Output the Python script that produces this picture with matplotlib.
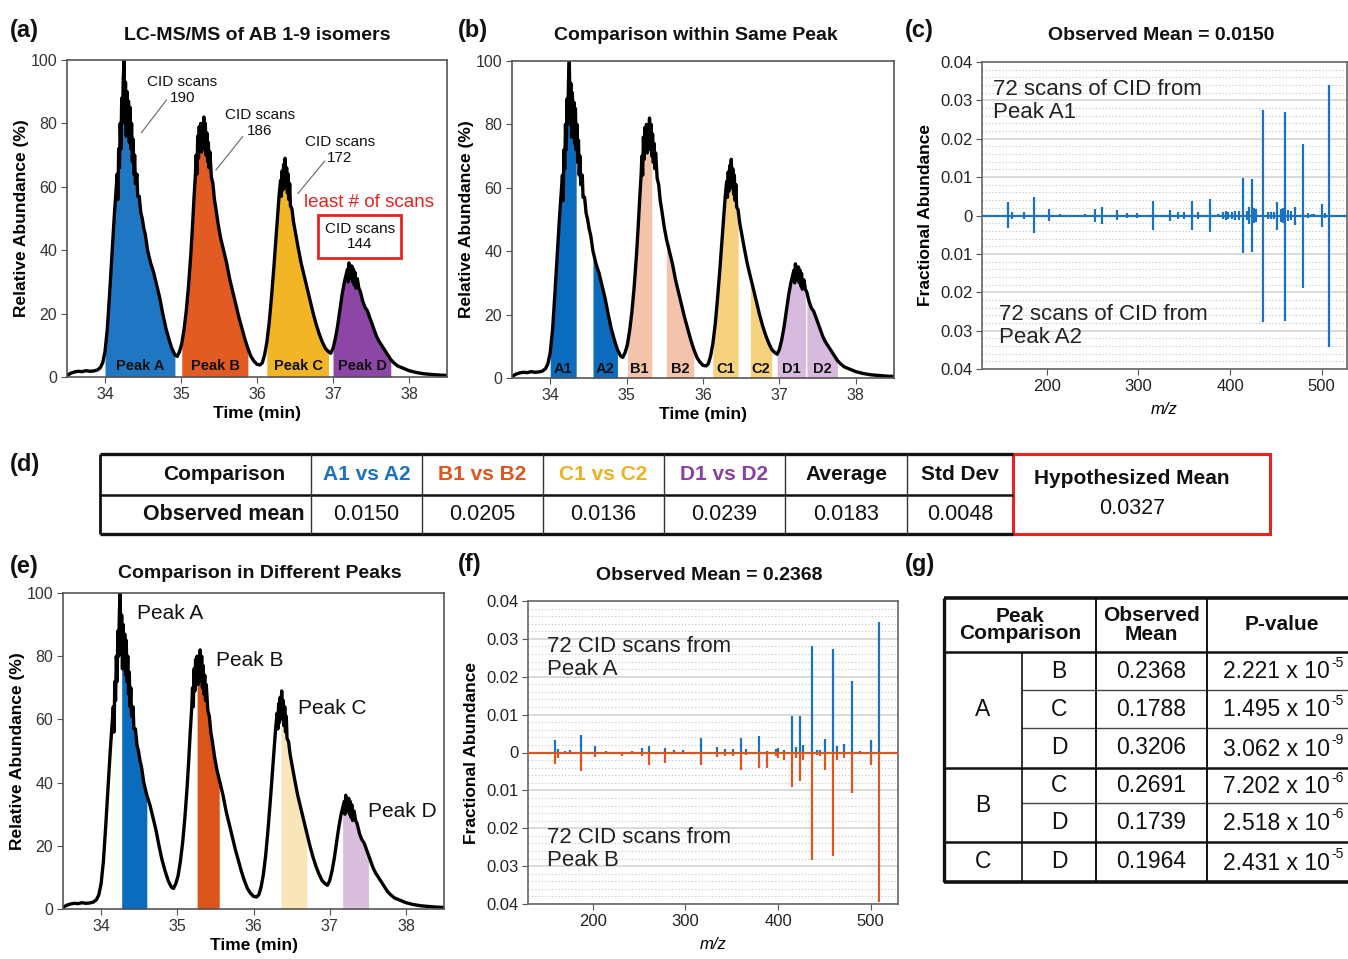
import numpy as np
import matplotlib.pyplot as plt
from matplotlib.ticker import MultipleLocator

plt.rcParams['font.family'] = ['Liberation Sans', 'DejaVu Sans']
plt.rcParams['mathtext.fontset'] = 'custom'
plt.rcParams['mathtext.rm'] = 'Liberation Sans'
plt.rcParams['mathtext.it'] = 'Liberation Sans:italic'
plt.rcParams['mathtext.bf'] = 'Liberation Sans:bold'

# ---------------- data ----------------
# extracted ion chromatogram
time_min = [33.50, 33.55, 33.60, 33.65, 33.70, 33.75, 33.80, 33.85, 33.90, 33.94, 33.97,
            34.00, 34.03, 34.06, 34.09, 34.12, 34.14, 34.16, 34.17, 34.18, 34.19, 34.20,
            34.21, 34.22, 34.23, 34.24, 34.25, 34.26, 34.27, 34.28, 34.29, 34.30, 34.31,
            34.32, 34.33, 34.34, 34.35, 34.36, 34.37, 34.38, 34.39, 34.40, 34.42, 34.43,
            34.45, 34.47, 34.49, 34.51, 34.53, 34.56, 34.60, 34.64, 34.68, 34.72, 34.76,
            34.80, 34.84, 34.88, 34.92, 34.95,
            34.98, 35.01, 35.04, 35.07, 35.10, 35.13, 35.15, 35.17, 35.19, 35.20, 35.21,
            35.22, 35.23, 35.24, 35.25, 35.26, 35.27, 35.28, 35.29, 35.30, 35.31, 35.32,
            35.33, 35.34, 35.35, 35.36, 35.37, 35.38, 35.40, 35.42, 35.44, 35.46, 35.49,
            35.52, 35.55, 35.60, 35.64, 35.68, 35.72, 35.76, 35.80, 35.84, 35.88, 35.92,
            35.96, 36.00, 36.04, 36.07,
            36.10, 36.13, 36.16, 36.19, 36.22, 36.25, 36.27, 36.29, 36.31, 36.32, 36.33,
            36.34, 36.35, 36.36, 36.37, 36.38, 36.39, 36.40, 36.41, 36.42, 36.43, 36.44,
            36.46, 36.48, 36.51, 36.54, 36.58, 36.62, 36.66, 36.70, 36.74, 36.78, 36.82,
            36.86, 36.90, 36.94, 36.97,
            37.00, 37.03, 37.06, 37.09, 37.12, 37.15, 37.17, 37.19, 37.20, 37.21, 37.22,
            37.23, 37.24, 37.25, 37.26, 37.27, 37.28, 37.29, 37.30, 37.32, 37.34, 37.36,
            37.39, 37.42, 37.45, 37.48, 37.51, 37.54, 37.57, 37.60, 37.64, 37.68, 37.72,
            37.76, 37.80, 37.85, 37.90, 37.95, 38.00, 38.10, 38.20, 38.30, 38.40, 38.50]
rel_abund = [0.5, 1.2, 1.6, 1.8, 1.7, 2.0, 1.8, 1.9, 2.2, 3.0, 4.5,
             8, 15, 26, 38, 50, 57, 64, 56, 72, 66, 80,
             72, 88, 80, 94, 100, 84, 93, 76, 90, 80, 87,
             74, 85, 72, 80, 68, 75, 64, 70, 61, 64, 57,
             57, 52, 50, 47, 45, 40, 36, 33, 29, 25, 20,
             15.5, 12, 9, 7, 6.5,
             8, 10.5, 15, 21, 29, 39, 47, 56, 64, 70, 64,
             76, 69, 79, 72, 80, 71, 78, 73, 82, 72, 80,
             70, 77, 68, 74, 66, 71, 63, 61, 56, 53, 48,
             44, 41, 36, 31, 27, 23, 19, 15.5, 12, 9, 6.5,
             5, 4, 3.8, 4.5,
             7, 11, 17, 25, 34, 44, 51, 57, 62, 57, 65,
             59, 67, 61, 69, 60, 66, 58, 64, 56, 61, 54,
             53, 49, 45, 41, 36, 32, 28, 24, 20, 16.5, 13.5,
             11, 9, 8, 7.5,
             9, 12, 16, 21, 26, 30, 32, 34, 30, 36, 32,
             35, 31, 35, 30, 34, 29, 33, 28, 31, 28, 27,
             24, 22, 21, 19, 17, 15, 13, 11.5, 10, 8.5, 7,
             5.5, 4.5, 3.5, 3, 2.5, 2, 1.4, 1.0, 0.8, 0.6, 0.5]

# scan windows (min)
windows_a = [(34.00, 34.92), (35.01, 35.90), (36.13, 36.95), (37.00, 37.77)]
labels_a = ['Peak A', 'Peak B', 'Peak C', 'Peak D']
windows_b = [(34.00, 34.34), (34.54, 34.90), (35.01, 35.33), (35.52, 35.89),
             (36.13, 36.47), (36.61, 36.91), (36.97, 37.34), (37.36, 37.76)]
labels_b = ['A1', 'A2', 'B1', 'B2', 'C1', 'C2', 'D1', 'D2']
windows_e = [(34.27, 34.60), (35.26, 35.58), (36.36, 36.72), (37.17, 37.51)]
cid_scans = [190, 186, 172, 144]

# panel (c): A1 (up) vs A2 (down)
mz_c = [158, 162, 175, 186.5, 202, 214, 242, 253, 260, 277, 288, 298, 316, 334, 343,
        350, 359, 365, 378, 387, 392, 396, 398, 402, 405, 410, 414.5, 418, 421, 423.6,
        426, 428, 435.6, 441.8, 445, 448, 451, 456, 458, 460, 463.6, 466, 471, 480, 485,
        489, 492, 500, 504, 508.4]
a1_c = [0.0034, 0.001, 0.0008, 0.0047, 0.0017, 0.0003, 0.0005, 0.0017, 0.0023, 0.0014,
        0.0007, 0.0006, 0.0038, 0.0014, 0.001, 0.0008, 0.0037, 0.0008, 0.0043, 0.0005,
        0.0009, 0.0012, 0.001, 0.0009, 0.0012, 0.0011, 0.0097, 0.0012, 0.0022, 0.0095,
        0.002, 0.0018, 0.0276, 0.0008, 0.0008, 0.0009, 0.0035, 0.0016, 0.0019, 0.0269,
        0.0015, 0.0011, 0.0023, 0.0186, 0.0007, 0.0005, 0.0005, 0.003, 0.0007, 0.0341]
a2_c = [0.0033, 0.001, 0.0008, 0.0046, 0.0015, 0.0003, 0.0005, 0.0017, 0.0023, 0.0012,
        0.0007, 0.0006, 0.0039, 0.0014, 0.001, 0.0008, 0.0039, 0.0008, 0.0042, 0.0005,
        0.0009, 0.0011, 0.001, 0.0009, 0.0012, 0.0011, 0.0098, 0.0012, 0.0021, 0.0096,
        0.002, 0.0018, 0.0277, 0.0008, 0.0008, 0.0009, 0.0037, 0.0016, 0.0019, 0.0275,
        0.0015, 0.0011, 0.0025, 0.019, 0.0007, 0.0005, 0.0005, 0.0031, 0.0007, 0.0342]

# panel (f): Peak A (up) vs Peak B (down)
mz_f = [159, 163, 170, 175, 187, 202.5, 214, 232, 242, 253, 261, 278, 288, 298, 316.5,
        334, 343, 351, 360, 365, 379, 388, 398, 400, 406, 415, 419, 424, 427, 436.5,
        441.6, 445, 451, 459.7, 464, 471.6, 479.9, 488.5, 500, 508.6]
peakA_f = [0.0034, 0.0009, 0.0005, 0.0007, 0.0047, 0.0017, 0.0005, 0.0002, 0.0005, 0.0012,
           0.0018, 0.0012, 0.0006, 0.0006, 0.0038, 0.0015, 0.001, 0.0008, 0.0037, 0.0008,
           0.0043, 0.0005, 0.001, 0.0013, 0.0007, 0.0097, 0.0015, 0.0097, 0.002, 0.0281,
           0.0007, 0.0007, 0.0035, 0.0273, 0.0017, 0.0023, 0.019, 0.0005, 0.0033, 0.0344]
peakB_f = [0.003, 0.0015, 0.0004, 0.0005, 0.0049, 0.0012, 0.0005, 0.0008, 0.0005, 0.0008,
           0.0033, 0.0028, 0.0004, 0.0004, 0.0034, 0.0013, 0.001, 0.0008, 0.0047, 0.0006,
           0.0042, 0.004, 0.001, 0.0015, 0.002, 0.0092, 0.0015, 0.0075, 0.002, 0.0285,
           0.0007, 0.0008, 0.0045, 0.0272, 0.002, 0.0015, 0.0107, 0.0005, 0.0032, 0.0396]

# table (d)
comparisons_d = ['A1 vs A2', 'B1 vs B2', 'C1 vs C2', 'D1 vs D2']
observed_d = ['0.0150', '0.0205', '0.0136', '0.0239']
average_d = '0.0183'
stddev_d = '0.0048'
hypothesized_mean = '0.0327'

# table (g)
group_g = ['A', 'B', 'C']
pair_g = ['B', 'C', 'D', 'C', 'D', 'D']
mean_g = ['0.2368', '0.1788', '0.3206', '0.2691', '0.1739', '0.1964']
pval_g = ['2.221', '1.495', '3.062', '7.202', '2.518', '2.431']
pexp_g = ['-5', '-5', '-9', '-6', '-6', '-5']

# ---------------- style ----------------
BLUE, ORANGE, GOLD, PURPLE = '#1a72c0', '#e0541e', '#f0b020', '#8a3fa4'
cols_a = ['#1f77c4', '#e25b22', '#f1b526', '#8c46a6']
cols_b = ['#0b6cbd', '#0b6cbd', '#f3c3ac', '#f3c3ac', '#f6d27f', '#f6d27f', '#d8bade', '#d8bade']
cols_e = ['#0b6cbd', '#db5419', '#f8e5b8', '#d9bfdd']
RED = '#e8231f'
W, H = 1348, 959

fig = plt.figure(figsize=(W / 100, H / 100), dpi=100)


def rect(l, t, r, b):
    return [l / W, 1 - b / H, (r - l) / W, (b - t) / H]


def ftext(px, py, s, **kw):
    fig.text(px / W, 1 - py / H, s, **kw)


def chromatogram(ax, windows, colors):
    t = np.array(time_min)
    y = np.array(rel_abund)
    for (a, b), c in zip(windows, colors):
        m = (t >= a) & (t <= b)
        ax.fill_between(t, 0, y, where=m, color=c, lw=0)
    ax.plot(t, y, color='black', lw=2.4, solid_joinstyle='round')
    ax.set_xlim(33.5, 38.5)
    ax.set_ylim(0, 100)
    ax.set_xticks([34, 35, 36, 37, 38])
    ax.set_yticks([0, 20, 40, 60, 80, 100])
    ax.tick_params(labelsize=11.5, labelcolor='#333', color='#555', length=4, pad=3)
    for s in ax.spines.values():
        s.set_color('#555')
        s.set_linewidth(1.2)
    ax.set_xlabel('Time (min)', fontsize=12.5, fontweight='bold', labelpad=3)
    ax.set_ylabel('Relative Abundance (%)', fontsize=12.5, fontweight='bold', labelpad=1)


def spectrum(ax, mz_up, up, mz_dn, dn, c_up, c_dn, c_base, xlim):
    ax.grid(which='major', axis='y', color='#dadada', lw=1.4, zorder=0)
    ax.grid(which='minor', axis='y', color='#c4c4c4', lw=0.8, ls=(0, (1, 2)), zorder=0)
    ax.vlines(mz_up, 0, up, color=c_up, lw=1.6, zorder=3)
    ax.vlines(mz_dn, 0, [-v for v in dn], color=c_dn, lw=1.6, zorder=3)
    ax.axhline(0, color=c_base, lw=1.6, zorder=4)
    ax.set_xlim(*xlim)
    ax.set_ylim(-0.04, 0.04)
    ax.set_xticks([200, 300, 400, 500])
    ax.set_yticks([-0.04, -0.03, -0.02, -0.01, 0, 0.01, 0.02, 0.03, 0.04])
    ax.set_yticklabels(['0.04', '0.03', '0.02', '0.01', '0', '0.01', '0.02', '0.03', '0.04'])
    ax.yaxis.set_minor_locator(MultipleLocator(0.002))
    ax.tick_params(which='minor', length=0)
    ax.tick_params(labelsize=12, labelcolor='#222', color='#555', length=4, pad=3)
    ax.set_axisbelow(True)
    for s in ax.spines.values():
        s.set_color('#666')
        s.set_linewidth(1.2)
    ax.set_xlabel('m/z', fontsize=12, fontstyle='italic', labelpad=6)
    ax.set_ylabel('Fractional Abundance', fontsize=12.5, fontweight='bold', labelpad=5)


# ---------------- (a) ----------------
ax_a = fig.add_axes(rect(67, 60, 447, 377))
chromatogram(ax_a, windows_a, cols_a)
for (a, b), lab in zip(windows_a, labels_a):
    ax_a.text((a + b) / 2, 3.6, lab, ha='center', va='center', fontsize=10.5,
              fontweight='bold', color='#111', zorder=5)
for xy_text, seg, n in [((35.02, 90.5), ((34.81, 87.4), (34.48, 77.1)), cid_scans[0]),
                        ((36.04, 80.1), ((35.81, 75.8), (35.46, 65.3)), cid_scans[1]),
                        ((37.09, 71.6), ((36.89, 68.1), (36.54, 57.9)), cid_scans[2])]:
    ax_a.text(*xy_text, f'CID scans\n{n}', ha='center', va='center', fontsize=11,
              color='#111', linespacing=1.15)
    ax_a.plot([seg[0][0], seg[1][0]], [seg[0][1], seg[1][1]], color='#666', lw=0.8)
ax_a.text(37.48, 55.1, 'least # of scans', ha='center', va='center', fontsize=13.5, color=RED)
ax_a.text(37.35, 44.3, f'CID scans\n{cid_scans[3]}', ha='center', va='center', fontsize=11,
          color='#111', linespacing=1.15,
          bbox=dict(boxstyle='square,pad=0.42', fc='white', ec=RED, lw=2))

# ---------------- (b) ----------------
ax_b = fig.add_axes(rect(512, 61, 894, 378))
chromatogram(ax_b, windows_b, cols_b)
for (a, b), lab in zip(windows_b, labels_b):
    ax_b.text((a + b) / 2, 2.9, lab, ha='center', va='center', fontsize=10.5,
              fontweight='bold', color='#111', zorder=5)

# ---------------- (c) ----------------
ax_c = fig.add_axes(rect(982, 62, 1347, 369))
spectrum(ax_c, mz_c, a1_c, mz_c, a2_c, BLUE, BLUE, BLUE, (129.4, 527.6))
ax_c.text(141.7, 0.0298, '72 scans of CID from\nPeak A1', ha='left', va='center',
          fontsize=16, color='#222', linespacing=1.1, zorder=5)
ax_c.text(147.9, -0.0288, '72 scans of CID from\nPeak A2', ha='left', va='center',
          fontsize=16, color='#222', linespacing=1.1, zorder=5)

# ---------------- (e) ----------------
ax_e = fig.add_axes(rect(63, 593, 444, 909))
chromatogram(ax_e, windows_e, cols_e)
for (px, py), lab in zip([(34.47, 93.4), (35.51, 78.5), (36.58, 63.3), (37.50, 30.7)], labels_a):
    ax_e.text(px, py, lab, ha='left', va='center', fontsize=15, color='#111')

# ---------------- (f) ----------------
ax_f = fig.add_axes(rect(528, 601, 898, 904))
spectrum(ax_f, mz_f, peakA_f, mz_f, peakB_f, BLUE, ORANGE, ORANGE, (130.2, 529.5))
ax_f.text(150.4, 0.0250, '72 CID scans from\nPeak A', ha='left', va='center',
          fontsize=16, color='#222', linespacing=1.1, zorder=5)
ax_f.text(150.4, -0.0255, '72 CID scans from\nPeak B', ha='left', va='center',
          fontsize=16, color='#222', linespacing=1.1, zorder=5)

# ---------------- titles & panel letters ----------------
for (px, py), s in [((257, 36), 'LC-MS/MS of AB 1-9 isomers'),
                    ((696, 36), 'Comparison within Same Peak'),
                    ((1161, 36), 'Observed Mean = 0.0150'),
                    ((260, 574), 'Comparison in Different Peaks'),
                    ((709, 575), 'Observed Mean = 0.2368')]:
    ftext(px, py, s, ha='center', va='center', fontsize=14, fontweight='bold', color='#111')
for (px, py), s in [((10, 30), '(a)'), ((458, 30), '(b)'), ((905, 30), '(c)'),
                    ((10, 464), '(d)'), ((10, 566), '(e)'), ((458, 565), '(f)'),
                    ((905, 565), '(g)')]:
    ftext(px, py, s, ha='left', va='center', fontsize=17, fontweight='bold', color='#111')

# ---------------- tables (overlay in pixel units) ----------------
ov = fig.add_axes([0, 0, 1, 1], zorder=10)
ov.set_xlim(0, W)
ov.set_ylim(H, 0)
ov.axis('off')
ov.patch.set_alpha(0)


def hline(y, x0, x1, lw, c='#111'):
    ov.plot([x0, x1], [y, y], color=c, lw=lw, solid_capstyle='butt')


def vline(x, y0, y1, lw, c='#111'):
    ov.plot([x, x], [y0, y1], color=c, lw=lw, solid_capstyle='butt')


# table (d)
cx_d = [100, 311, 422, 543, 664, 785, 907, 1013]
top_d, mid_d, bot_d = 454, 495, 534
hline(top_d, cx_d[0], cx_d[-1], 2.4)
hline(mid_d, cx_d[0], cx_d[-1], 1.8)
hline(bot_d, cx_d[0], cx_d[-1], 2.4)
vline(cx_d[0], top_d, bot_d, 2.0)
for x in cx_d[1:-1]:
    vline(x, top_d, bot_d, 1.0, '#333')
ov.add_patch(plt.Rectangle((1013, top_d), 257, bot_d - top_d, fill=False, ec=RED, lw=2.2))
head_d = ['Comparison'] + comparisons_d + ['Average', 'Std Dev']
head_c = ['#111', BLUE, ORANGE, GOLD, PURPLE, '#111', '#111']
row_d = ['Observed mean'] + observed_d + [average_d, stddev_d]
centers_d = [224] + [(cx_d[i] + cx_d[i + 1]) / 2 for i in range(1, len(cx_d) - 1)]
for i, x in enumerate(centers_d):
    ov.text(x, 474, head_d[i], ha='center', va='center', fontsize=15, fontweight='bold',
            color=head_c[i])
    ov.text(x, 514, row_d[i], ha='center', va='center', fontsize=15.5,
            fontweight='bold' if i == 0 else 'normal', color='#111')
ov.text(1132, 478, 'Hypothesized Mean', ha='center', va='center', fontsize=15,
        fontweight='bold', color='#111')
ov.text(1132, 508, hypothesized_mean, ha='center', va='center', fontsize=15.5, color='#111')

# table (g)
cx_g = [944, 1022, 1096, 1207, 1352]
ry_g = [598, 652, 690, 728, 768, 803, 842, 882]
hline(ry_g[0], cx_g[0], cx_g[-1], 2.6)
hline(ry_g[1], cx_g[0], cx_g[-1], 1.8)
hline(ry_g[2], cx_g[1], cx_g[-1], 1.0, '#444')
hline(ry_g[3], cx_g[1], cx_g[-1], 1.0, '#444')
hline(ry_g[4], cx_g[0], cx_g[-1], 1.8)
hline(ry_g[5], cx_g[1], cx_g[-1], 1.0, '#444')
hline(ry_g[6], cx_g[0], cx_g[-1], 1.8)
hline(ry_g[7], cx_g[0], cx_g[-1], 2.6)
vline(cx_g[0], ry_g[0], ry_g[-1], 2.4)
vline(cx_g[1], ry_g[1], ry_g[-1], 1.2)
vline(cx_g[2], ry_g[0], ry_g[-1], 1.4)
vline(cx_g[3], ry_g[0], ry_g[-1], 1.4)
hy = (ry_g[0] + ry_g[1]) / 2
ov.text(1020, hy, 'Peak\nComparison', ha='center', va='center', fontsize=15,
        fontweight='bold', linespacing=0.9, color='#111')
ov.text(1151, hy, 'Observed\nMean', ha='center', va='center', fontsize=15,
        fontweight='bold', linespacing=0.95, color='#111')
ov.text(1282, hy, 'P-value', ha='center', va='center', fontsize=15, fontweight='bold',
        color='#111')
for g, (y0, y1) in zip(group_g, [(ry_g[1], ry_g[4]), (ry_g[4], ry_g[6]), (ry_g[6], ry_g[7])]):
    ov.text(983, (y0 + y1) / 2, g, ha='center', va='center', fontsize=16.5, color='#111')
for i in range(len(pair_g)):
    yc = (ry_g[i + 1] + ry_g[i + 2]) / 2
    ov.text(1059, yc, pair_g[i], ha='center', va='center', fontsize=16.5, color='#111')
    ov.text(1151, yc, mean_g[i], ha='center', va='center', fontsize=16.5, color='#111')
    ov.text(1330, yc + 1, f'{pval_g[i]} x 10', ha='right', va='center',
            fontsize=16.5, color='#111')
    ov.text(1331, yc - 8, pexp_g[i], ha='left', va='center', fontsize=10, color='#111')

fig.savefig('out.png', dpi=100)
